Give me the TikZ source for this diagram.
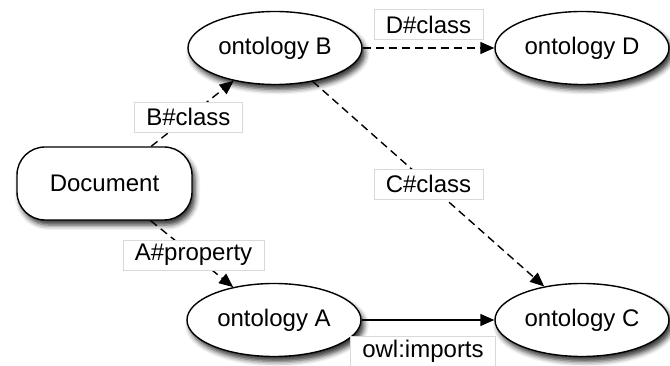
\documentclass[tikz,border=0pt]{standalone}
\usepackage{fontspec}
\setmainfont{Liberation Sans}
\usetikzlibrary{arrows.meta,shapes.geometric,shadows.blur}
\begin{document}
\begin{tikzpicture}[x=1pt,y=-1pt,
  every node/.style={font=\fontsize{24}{28}\selectfont},
  shadowed/.style={blur shadow={shadow xshift=3pt,shadow yshift=-5pt,shadow blur radius=5pt,shadow opacity=80}},
  onto/.style={ellipse,draw,line width=1.4pt,fill=white,minimum width=174pt,minimum height=73pt,inner sep=0pt,shadowed},
  docbox/.style={rectangle,rounded corners=28pt,draw,line width=1.4pt,fill=white,minimum width=175pt,minimum height=73pt,inner sep=0pt,shadowed},
  lbl/.style={solid,draw=gray!30,line width=0.6pt,fill=white,inner xsep=12pt,inner ysep=0pt,minimum height=30pt},
  conn/.style={line width=1.4pt,-{Triangle[length=14pt,width=12pt]}},
  dconn/.style={conn,dash pattern=on 8pt off 5pt}
]
\useasboundingbox (0,0) rectangle (670,366);
\node[onto] (B) at (275,48) {ontology B};
\node[onto] (D) at (582,48) {ontology D};
\node[docbox] (doc) at (104.5,183.5) {Document};
\node[onto] (A) at (274,320) {ontology A};
\node[onto] (C) at (582,320) {ontology C};

\draw[dconn] (doc) -- node[lbl,pos=0.45] {B\#class} (B);
\draw[dconn] (doc) -- node[lbl,pos=0.52] {A\#property} (A);
\draw[dconn] (B) -- node[lbl,anchor=south,yshift=8pt] {D\#class} (D);
\draw[dconn] (B) -- node[lbl,pos=0.5] {C\#class} (C);
\draw[conn] (A) -- node[lbl,anchor=north,yshift=-16pt,xshift=-5pt] {owl:imports} (C);
\end{tikzpicture}
\end{document}
